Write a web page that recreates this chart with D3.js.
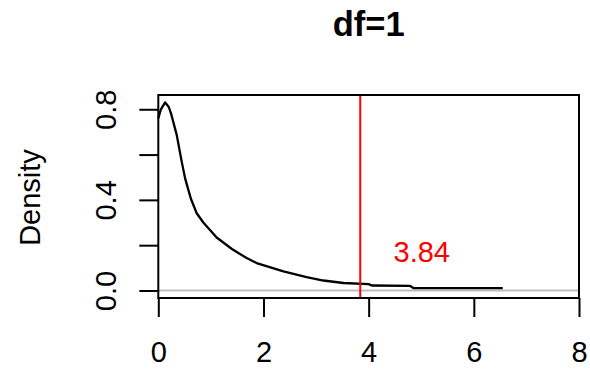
<!DOCTYPE html>
<html><head><meta charset="utf-8">
<script src="https://cdn.jsdelivr.net/npm/d3@7"></script>
<style>body{margin:0;background:#fff}svg{display:block;font-family:"Liberation Sans",Arial,sans-serif}</style>
</head><body>
<svg id="c" width="590" height="374"></svg>
<script>
const densityX = [0, 0.05, 0.13, 0.2, 0.25, 0.35, 0.445, 0.51, 0.57, 0.62, 0.73, 0.856, 1.11, 1.4, 1.68, 1.87, 2.38, 2.82, 3.14, 3.52, 4.0, 4.06, 4.79, 4.85, 6.55];
const densityY = [0.76, 0.80, 0.83, 0.81, 0.775, 0.687, 0.569, 0.495, 0.445, 0.405, 0.341, 0.30, 0.234, 0.183, 0.143, 0.121, 0.084, 0.059, 0.044, 0.033, 0.028, 0.022, 0.020, 0.011, 0.010];
const xTicks = [0, 2, 4, 6, 8];
const yTicks = [0, 0.2, 0.4, 0.6, 0.8];
const yTickLabels = ["0.0", "", "0.4", "", "0.8"];
const critical = 3.84;
const title = "df=1";

const svg = d3.select("#c");
const L = 158.3, R = 579, T = 95, B = 298;
const FS = 29;
const x = d3.scaleLinear().domain([0, 8]).range([L, R]);
const y = d3.scaleLinear().domain([-0.0332, 0.863]).range([B, T]);

// zero line
svg.append("line").attr("x1", L).attr("x2", R).attr("y1", y(0)).attr("y2", y(0))
  .attr("stroke", "#bebebe").attr("stroke-width", 2);

// density curve
const pts = densityX.map((d, i) => [d, densityY[i]]);
svg.append("path").datum(pts)
  .attr("d", d3.line().x(d => x(d[0])).y(d => y(d[1])))
  .attr("fill", "none").attr("stroke", "#000").attr("stroke-width", 2.3)
  .attr("stroke-linejoin", "round");

// critical line
svg.append("line").attr("x1", x(critical)).attr("x2", x(critical)).attr("y1", T).attr("y2", B)
  .attr("stroke", "#ff0000").attr("stroke-width", 2);
svg.append("text").attr("x", x(5.01)).attr("y", y(0.172)).attr("dy", "0.35em")
  .attr("text-anchor", "middle").attr("fill", "#ff0000").attr("font-size", FS).text(critical.toFixed(2));

// box
svg.append("rect").attr("x", L).attr("y", T).attr("width", R - L).attr("height", B - T)
  .attr("fill", "none").attr("stroke", "#000").attr("stroke-width", 2);

// x axis
const xa = svg.append("g").attr("transform", `translate(0,${B})`)
  .call(d3.axisBottom(x).tickValues(xTicks).tickSize(19).tickPadding(24).tickFormat(d3.format("d")));
xa.select(".domain").remove();
xa.selectAll("line").attr("stroke-width", 2);
xa.selectAll("text").attr("font-size", FS).attr("font-family", "Liberation Sans, Arial, sans-serif");

// y axis
const ya = svg.append("g").attr("transform", `translate(${L},0)`)
  .call(d3.axisLeft(y).tickValues(yTicks).tickSize(19).tickFormat((d, i) => yTickLabels[i]));
ya.select(".domain").remove();
ya.selectAll("line").attr("stroke-width", 2);
ya.selectAll("text").attr("font-size", FS).attr("font-family", "Liberation Sans, Arial, sans-serif")
  .attr("text-anchor", "middle").attr("dy", "0.35em")
  .attr("x", 0).attr("y", 0)
  .attr("transform", "translate(-52.8,0) rotate(-90)");

// y label
svg.append("text").attr("transform", "translate(30,197.5) rotate(-90)")
  .attr("text-anchor", "middle").attr("dy", "0.35em").attr("font-size", FS).text("Density");

// title
svg.append("text").attr("x", (L + R) / 2).attr("y", 36).attr("text-anchor", "middle")
  .attr("font-size", 34.5).attr("font-weight", "bold").text(title);
</script>
</body></html>
